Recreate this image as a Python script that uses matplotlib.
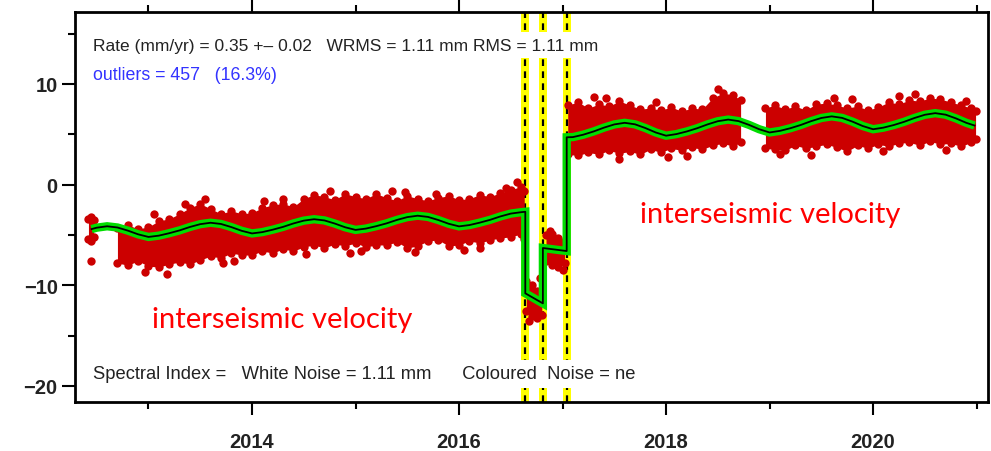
import matplotlib
matplotlib.use("Agg")
import matplotlib.pyplot as plt
from matplotlib.ticker import MultipleLocator, FixedLocator, FixedFormatter

# ---- data (mm, decimal years) ----
# fitted model: trend + seasonal + co-/post-seismic offsets
model_t = [2012.45, 2012.5, 2012.6, 2012.7, 2012.8, 2012.9, 2013.0, 2013.1, 2013.2, 2013.3,
           2013.4, 2013.5, 2013.6, 2013.7, 2013.8, 2013.9, 2014.0, 2014.1, 2014.2, 2014.3,
           2014.4, 2014.5, 2014.6, 2014.7, 2014.8, 2014.9, 2015.0, 2015.1, 2015.2, 2015.3,
           2015.4, 2015.5, 2015.6, 2015.7, 2015.8, 2015.9, 2016.0, 2016.1, 2016.2, 2016.3,
           2016.4, 2016.5, 2016.6, 2016.64,
           2016.64, 2016.81,
           2016.81, 2017.04,
           2017.04, 2017.1, 2017.2, 2017.3, 2017.4, 2017.5, 2017.6, 2017.7, 2017.8, 2017.9,
           2018.0, 2018.1, 2018.2, 2018.3, 2018.4, 2018.5, 2018.6, 2018.7, 2018.8, 2018.9,
           2019.0, 2019.1, 2019.2, 2019.3, 2019.4, 2019.5, 2019.6, 2019.7, 2019.8, 2019.9,
           2020.0, 2020.1, 2020.2, 2020.3, 2020.4, 2020.5, 2020.6, 2020.7, 2020.8, 2020.9,
           2020.98]
model_y = [-4.42, -4.28, -4.14, -4.26, -4.57, -4.94, -5.20, -5.07, -4.83, -4.55,
           -4.21, -3.93, -3.79, -3.91, -4.22, -4.59, -4.85, -4.72, -4.48, -4.20,
           -3.86, -3.58, -3.44, -3.56, -3.87, -4.24, -4.50, -4.37, -4.13, -3.85,
           -3.51, -3.23, -3.09, -3.21, -3.52, -3.89, -4.15, -4.02, -3.78, -3.50,
           -3.16, -2.88, -2.74, -2.70,
           -10.8, -11.8,
           -6.3, -6.6,
           4.70, 4.72, 4.96, 5.28, 5.66, 5.98, 6.14, 5.99, 5.62, 5.18,
           4.86, 5.02, 5.28, 5.60, 5.98, 6.30, 6.46, 6.31, 5.94, 5.50,
           5.18, 5.34, 5.60, 5.92, 6.30, 6.62, 6.78, 6.63, 6.26, 5.82,
           5.50, 5.66, 5.92, 6.24, 6.62, 6.94, 7.10, 6.95, 6.58, 6.14,
           5.87]

# observation cloud: upper / lower extent of the daily positions, per data segment
cloud_segments = [
    ([2012.42, 2012.445, 2012.47],
     [-3.4, -3.2, -3.5],
     [-5.4, -5.6, -5.2]),
    ([2012.70, 2012.8, 2012.9, 2013.0, 2013.1, 2013.2, 2013.3, 2013.4, 2013.5, 2013.6,
      2013.7, 2013.8, 2013.9, 2014.0, 2014.1, 2014.2, 2014.3, 2014.4, 2014.5, 2014.6,
      2014.7, 2014.8, 2014.9, 2015.0, 2015.1, 2015.2, 2015.3, 2015.4, 2015.5, 2015.6,
      2015.7, 2015.8, 2015.9, 2016.0, 2016.1, 2016.2, 2016.3, 2016.4, 2016.5, 2016.6,
      2016.63],
     [-4.3, -4.0, -4.4, -4.2, -3.6, -3.4, -2.9, -2.3, -1.9, -2.4,
      -2.9, -2.6, -2.9, -2.8, -2.3, -2.0, -1.9, -2.2, -1.4, -1.0,
      -1.2, -1.5, -0.9, -1.2, -1.4, -0.9, -1.3, -1.6, -1.1, -1.4,
      -1.6, -1.3, -1.1, -1.5, -1.4, -1.0, -1.2, -0.8, -0.5, -0.2,
      -0.6],
     [-7.8, -8.0, -7.6, -8.1, -8.2, -7.9, -7.7, -7.9, -7.5, -7.1,
      -7.3, -6.8, -7.0, -7.0, -6.6, -6.8, -6.4, -6.6, -6.2, -6.0,
      -6.3, -5.9, -6.1, -5.8, -6.2, -6.0, -6.0, -5.7, -6.3, -6.1,
      -5.6, -5.5, -6.1, -6.0, -5.6, -5.8, -5.5, -5.3, -5.2, -4.9,
      -5.4]),
    ([2016.65, 2016.70, 2016.75, 2016.80],
     [-9.6, -10.0, -10.6, -11.2],
     [-12.6, -13.1, -13.3, -13.0]),
    ([2016.84, 2016.90, 2016.96, 2017.02],
     [-5.0, -4.9, -5.3, -5.6],
     [-7.6, -8.0, -8.2, -7.8]),
    ([2017.05, 2017.15, 2017.25, 2017.35, 2017.45, 2017.55, 2017.65, 2017.75, 2017.85, 2017.95,
      2018.05, 2018.15, 2018.25, 2018.35, 2018.45, 2018.55, 2018.65, 2018.72],
     [7.9, 8.2, 7.6, 8.0, 7.8, 8.3, 7.9, 7.5, 7.6, 7.4,
      7.7, 7.3, 7.6, 7.5, 8.6, 9.1, 8.9, 8.4],
     [3.0, 2.9, 3.2, 3.0, 3.4, 3.1, 3.3, 3.0, 3.5, 3.2,
      3.6, 3.4, 3.7, 3.5, 3.9, 4.1, 3.8, 4.2]),
    ([2018.96, 2019.05, 2019.15, 2019.25, 2019.35, 2019.45, 2019.55, 2019.65, 2019.75, 2019.85,
      2019.95, 2020.05, 2020.15, 2020.25, 2020.35, 2020.45, 2020.55, 2020.65, 2020.75, 2020.85,
      2020.95, 2020.99],
     [7.6, 7.9, 7.5, 7.8, 7.4, 8.0, 8.1, 7.9, 7.6, 7.8,
      7.4, 7.7, 8.2, 8.0, 8.4, 8.3, 8.6, 8.5, 8.2, 7.9,
      7.6, 7.3],
     [3.6, 3.5, 3.4, 3.9, 3.6, 3.8, 4.0, 3.7, 3.3, 3.9,
      3.6, 4.0, 3.8, 4.1, 4.2, 3.9, 4.3, 4.0, 4.1, 3.8,
      4.2, 4.5]),
]

# isolated positions lying outside the main cloud
outlier_t = [2012.44, 2012.97, 2013.18, 2013.35, 2013.55, 2013.83, 2014.3, 2014.52, 2014.75,
             2015.05, 2015.35, 2015.57, 2015.78, 2016.2, 2016.45, 2016.56,
             2016.68, 2016.78, 2016.88, 2017.0,
             2017.3, 2017.55, 2017.9, 2018.2, 2018.5, 2019.1, 2019.4, 2019.8, 2020.1,
             2020.4, 2020.7, 2020.9,
             2013.05, 2013.72, 2014.12, 2014.95, 2015.48, 2016.05,
             2017.42, 2018.02, 2019.62, 2020.25]
outlier_y = [-7.6, -8.7, -8.9, -1.9, -1.4, -7.6, -1.4, -6.9, -0.6,
             -6.6, -0.6, -6.7, -0.9, -6.3, -0.3, 0.3,
             -13.6, -9.3, -4.6, -8.5,
             8.7, 2.5, 8.2, 2.8, 9.5, 3.0, 2.9, 8.5, 3.3,
             9.0, 3.4, 8.3,
             -2.9, -7.8, -1.6, -6.8, -0.7, -6.5,
             8.6, 2.7, 8.6, 8.8]

event_t = [2016.64, 2016.81, 2017.04]

x_major = [2014, 2016, 2018, 2020]
x_labels = ["2014", "2016", "2018", "2020"]
y_major = [-20, -10, 0, 10]
y_labels = ["\u221220", "\u221210", "0", "10"]

stats_line = "Rate (mm/yr) = 0.35 +\u2013 0.02   WRMS = 1.11 mm RMS = 1.11 mm"
outlier_line = "outliers = 457   (16.3%)"
noise_line = "Spectral Index =   White Noise = 1.11 mm      Coloured  Noise = ne"
velocity_label = "interseismic velocity"

# ---- figure ----
RED = "#cc0000"
plt.rcParams["font.family"] = ["Liberation Sans", "DejaVu Sans"]
fig = plt.figure(figsize=(9.91, 4.52), dpi=100)
ax = fig.add_axes([75 / 991, 1 - 403 / 452, (988 - 75) / 991, (403 - 13) / 452])
ax.set_xlim(2012.29, 2021.11)
ax.set_ylim(-21.6, 17.15)

# event bands with dashed centre lines
for t in event_t:
    ax.axvspan(t - 0.037, t + 0.037, color="#ffff00", lw=0, zorder=1)
    ax.axvline(t, color="black", lw=1.6, ls=(0, (3, 2.4)), zorder=1.5)

# position cloud
for ts, hi, lo in cloud_segments:
    ax.fill_between(ts, lo, hi, color=RED, lw=0, zorder=2)
    ax.plot(ts, hi, "o", ms=6, color=RED, mec="none", zorder=2)
    ax.plot(ts, lo, "o", ms=6, color=RED, mec="none", zorder=2)
ax.plot(outlier_t, outlier_y, "o", ms=6, color=RED, mec="none", zorder=2)

# model
ax.plot(model_t, model_y, color="#00dd00", lw=6, solid_joinstyle="miter",
        solid_capstyle="butt", zorder=3)
ax.plot(model_t, model_y, color="black", lw=1.3, zorder=3.5)

# axes styling
for s in ax.spines.values():
    s.set_linewidth(2)
ax.xaxis.set_major_locator(FixedLocator(x_major))
ax.xaxis.set_major_formatter(FixedFormatter(x_labels))
ax.xaxis.set_minor_locator(MultipleLocator(1))
ax.yaxis.set_major_locator(FixedLocator(y_major))
ax.yaxis.set_major_formatter(FixedFormatter(y_labels))
ax.yaxis.set_minor_locator(MultipleLocator(5))
ax.xaxis.set_ticks_position("both")
ax.yaxis.set_ticks_position("left")
ax.tick_params(which="major", direction="out", length=9.5, width=1.5, labelsize=14.5)
ax.tick_params(axis="x", which="major", pad=12)
ax.tick_params(axis="y", which="major", pad=3)
ax.tick_params(which="minor", direction="out", length=5, width=1.5)
for lab in ax.get_xticklabels() + ax.get_yticklabels():
    lab.set_fontweight("bold")
    lab.set_color("#222222")

# annotations
box = dict(facecolor="white", edgecolor="none", pad=4)
ax.text(93, 46, stats_line, fontsize=12.5, color="#222222", va="center", ha="left", zorder=4)
ax.text(93, 76, outlier_line, fontsize=12.8, color="#3333ff", va="center", ha="left", zorder=4)
ax.text(93, 375, noise_line, fontsize=13.2, color="#222222", va="center", ha="left", zorder=4)
ax.text(640, 215, velocity_label, fontsize=21, color="red", va="center", ha="left",
        family=["Lato", "DejaVu Sans"], zorder=4)
ax.text(152, 320, velocity_label, fontsize=21, color="red", va="center", ha="left",
        family=["Lato", "DejaVu Sans"], zorder=4)

# place pixel-positioned texts (y measured from the top of the image)
H = 452
for txt in ax.texts:
    x, y = txt.get_position()
    txt.set_transform(fig.dpi_scale_trans)
    txt.set_position((x / 100, (H - y) / 100))
    if txt.get_text() in (stats_line, noise_line):
        txt.set_bbox(box)

fig.savefig("out.png", dpi=100, facecolor="white")
